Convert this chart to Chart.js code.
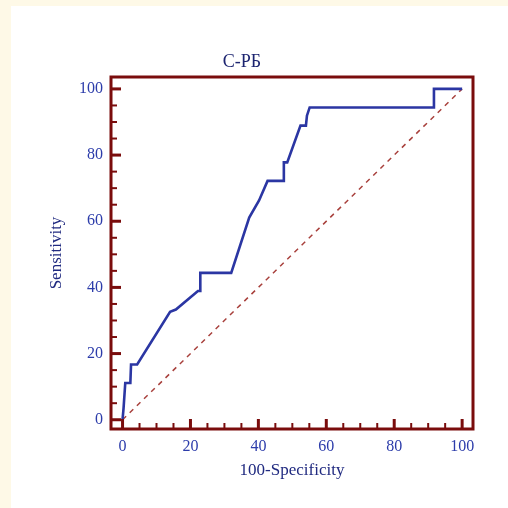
<!DOCTYPE html>
<html>
<head>
<meta charset="utf-8">
<script src="https://cdn.jsdelivr.net/npm/chart.js@4"></script>
<style>
  html, body { margin: 0; padding: 0; background: #fef9e7; width: 508px; height: 508px; overflow: hidden; }
  #panel { position: absolute; left: 11px; top: 6px; width: 497px; height: 502px; background: #ffffff; }
</style>
</head>
<body>
<div id="panel"><canvas id="roc" width="497" height="502"></canvas></div>
<script>
// ROC curve
var fpr = [0, 0.3, 0.8, 2.3, 2.5, 4.3, 14.0, 15.7, 22.2, 22.9, 22.9, 32.0, 37.3, 40.2, 42.7, 47.5, 47.5, 48.5, 52.4, 54.0, 54.3, 55.1, 91.7, 91.7, 100];
var tpr = [0, 3.5, 11.1, 11.1, 16.7, 16.7, 32.6, 33.3, 38.9, 38.9, 44.4, 44.4, 61.1, 66.3, 72.2, 72.2, 77.8, 77.8, 88.9, 88.9, 91.9, 94.4, 94.4, 100, 100];
var diagX = [0, 100];
var diagY = [0, 100];
var tickValues = [0, 20, 40, 60, 80, 100];

var serif = 'Liberation Serif, Times New Roman, serif';
var frameColor = '#7a0c0c';
var labelColor = '#2c3caa';

var rocPoints = fpr.map(function (x, i) { return { x: x, y: tpr[i] }; });
var diagPoints = diagX.map(function (x, i) { return { x: x, y: diagY[i] }; });

// frame around the plot with the tick marks pointing inward
var framePlugin = {
    id: 'frame',
    afterDraw: function (chart) {
        var c = chart.ctx, a = chart.chartArea;
        var xs = chart.scales.x, ys = chart.scales.y;
        c.save();
        c.strokeStyle = frameColor;
        c.lineCap = 'butt';
        for (var v = 0; v <= 100; v += 5) {
            var major = v % 20 === 0;
            c.lineWidth = major ? 3 : 2;
            var len = major ? 10 : 6;
            var px = xs.getPixelForValue(v);
            c.beginPath();
            c.moveTo(px, a.bottom);
            c.lineTo(px, a.bottom - len);
            c.stroke();
            var py = ys.getPixelForValue(v);
            c.beginPath();
            c.moveTo(a.left, py);
            c.lineTo(a.left + len, py);
            c.stroke();
        }
        c.lineWidth = 3;
        c.strokeRect(a.left, a.top, a.right - a.left, a.bottom - a.top);
        c.restore();
    }
};

var ctx = document.getElementById('roc');
var rocChart = new Chart(ctx, {
    type: 'scatter',
    plugins: [framePlugin],
    data: {
        datasets: [
            {
                label: 'С-РБ',
                data: rocPoints,
                showLine: true,
                borderColor: '#2b36a3',
                borderWidth: 2.6,
                pointRadius: 0,
                tension: 0,
                order: 1,
            },
            {
                label: 'reference',
                data: diagPoints,
                showLine: true,
                borderColor: '#a8403c',
                borderWidth: 1.5,
                borderDash: [5, 5],
                pointRadius: 0,
                order: 2,
            }
        ]
    },
    options: {
        responsive: false,
        animation: false,
        events: [],
        layout: {
            padding: { left: 0, right: 35, top: 0, bottom: 0 },
        },
        plugins: {
            legend: { display: false },
            tooltip: { enabled: false },
            title: {
                display: true,
                text: 'С-РБ',
                color: '#1c2470',
                font: { family: serif, size: 18, weight: 'normal' },
                padding: { top: 45, bottom: 4.4 },
            },
        },
        scales: {
            x: {
                type: 'linear',
                min: -3.4,
                max: 103.2,
                afterBuildTicks: function (scale) {
                    scale.ticks = tickValues.map(function (v) { return { value: v }; });
                },
                afterFit: function (scale) { scale.height = 79; },
                grid: { display: false },
                border: { display: false },
                ticks: {
                    padding: 0,
                    color: labelColor,
                    font: { family: serif, size: 16 },
                    maxRotation: 0,
                },
                title: {
                    display: true,
                    text: '100-Specificity',
                    color: '#202a80',
                    font: { family: serif, size: 17 },
                    padding: { top: 0, bottom: 27 },
                },
            },
            y: {
                type: 'linear',
                min: -2.8,
                max: 103.6,
                afterBuildTicks: function (scale) {
                    scale.ticks = tickValues.map(function (v) { return { value: v }; });
                },
                afterFit: function (scale) { scale.width = 100; },
                grid: { display: false },
                border: { display: false },
                ticks: {
                    padding: 0,
                    color: labelColor,
                    font: { family: serif, size: 16 },
                },
                title: {
                    display: true,
                    text: 'Sensitivity',
                    color: '#202a80',
                    font: { family: serif, size: 17 },
                    padding: { top: 35, bottom: 0 },
                },
            },
        },
    },
});
</script>
</body>
</html>
